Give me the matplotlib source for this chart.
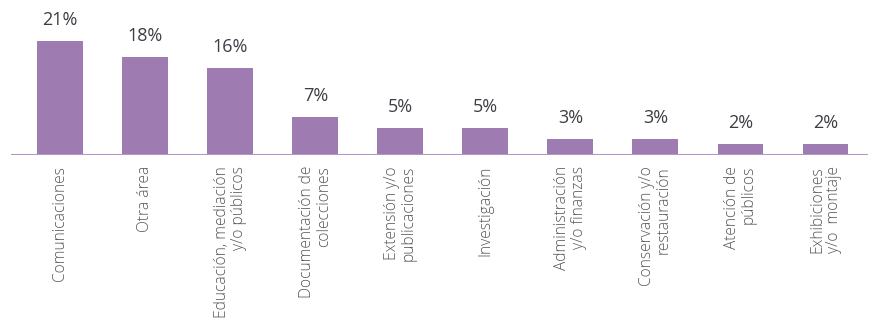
import matplotlib
matplotlib.use("Agg")
import matplotlib.pyplot as plt

areas = [
    "Comunicaciones", "Otra área", "Educación, mediación\ny/o públicos",
    "Documentación de\ncolecciones", "Extensión y/o\npublicaciones",
    "Investigación", "Administración\ny/o finanzas",
    "Conservación y/o\nrestauración", "Atención de\npúblicos",
    "Exhibiciones\ny/o  montaje",
]
shares = [21, 18, 16, 7, 5, 5, 3, 3, 2, 2]

plt.rcParams["font.family"] = ["Open Sans", "DejaVu Sans"]

fig = plt.figure(figsize=(8.7, 3.26), dpi=100)
ax = fig.add_axes([11 / 870, 171 / 326, 857 / 870, 155 / 326])

x = range(len(shares))
ax.bar(x, shares, width=0.54, color="#9e7bb0")
ax.axhline(0, color="#b594c8", lw=1.5)

for xi, v in zip(x, shares):
    ax.text(xi, v + 2.2, f"{v}%", ha="center", va="bottom",
            fontsize=13, color="#3d3d45")

ax.set_xlim(-0.58, 9.5)
ax.set_ylim(0, 28.5)
ax.set_xticks(list(x))
ax.set_xticklabels(areas, rotation=90, multialignment="right",
                   fontsize=11.2, color="#555555", fontweight="light",
                   linespacing=1.1)
ax.tick_params(axis="x", length=0, pad=8)
ax.get_yaxis().set_visible(False)
for s in ax.spines.values():
    s.set_visible(False)

fig.savefig("out.png", dpi=100)
